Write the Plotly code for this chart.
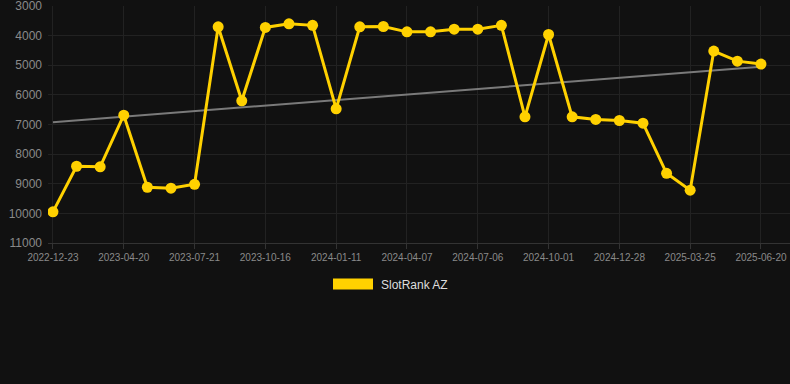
import plotly.graph_objects as go

dates = [
    "2022-12-23", "2023-01-31", "2023-03-11", "2023-04-20", "2023-05-21", "2023-06-20",
    "2023-07-21", "2023-08-19", "2023-09-17", "2023-10-16", "2023-11-14", "2023-12-13",
    "2024-01-11", "2024-02-09", "2024-03-09", "2024-04-07", "2024-05-07", "2024-06-06",
    "2024-07-06", "2024-08-04", "2024-09-02", "2024-10-01", "2024-10-30", "2024-11-28",
    "2024-12-28", "2025-01-26", "2025-02-24", "2025-03-25", "2025-04-23", "2025-05-22",
    "2025-06-20",
]
rank = [
    9950, 8410, 8430, 6685, 9120, 9150, 9020, 3700, 6200, 3720, 3600, 3650,
    6470, 3700, 3690, 3870, 3870, 3780, 3780, 3650, 6740, 3960, 6740, 6830,
    6865, 6955, 8650, 9220, 4520, 4860, 4960,
]
trend_x = [dates[0], dates[-1]]
trend_y = [6920, 5050]
tick_labels = dates[::3]
y_ticks = [3000, 4000, 5000, 6000, 7000, 8000, 9000, 10000, 11000]
series_name = "SlotRank AZ"

GOLD = "#FFD100"
BG = "#111111"

fig = go.Figure()
fig.add_trace(go.Scatter(
    x=trend_x, y=trend_y, mode="lines",
    line=dict(color="#7a7a7a", width=2),
    showlegend=False, hoverinfo="skip",
))
fig.add_trace(go.Scatter(
    x=dates, y=rank, mode="lines+markers", name=series_name,
    line=dict(color=GOLD, width=3),
    marker=dict(color=GOLD, size=11),
    showlegend=False,
))

L, R, T, B = 48, 0, 6, 141
W, H = 790, 384
pw, ph = W - L - R, H - T - B

fig.update_layout(
    width=W, height=H,
    margin=dict(l=L, r=R, t=T, b=B),
    paper_bgcolor=BG, plot_bgcolor=BG,
    font=dict(family="Liberation Sans, Arial, sans-serif", color="#8a8a8a"),
    showlegend=False,
)
fig.update_xaxes(
    type="category", categoryorder="array", categoryarray=dates,
    range=[-0.21, len(dates) - 1 + 1.23],
    tickvals=tick_labels, ticktext=tick_labels,
    tickfont=dict(size=10, color="#8a8a8a"),
    showgrid=True, gridcolor="#222222", gridwidth=1,
    showline=True, linecolor="#333333", linewidth=1,
    ticks="outside", ticklen=5, tickcolor="#333333",
    zeroline=False, fixedrange=True, ticklabeloverflow="allow",
)
fig.update_yaxes(
    range=[11003, 2997],
    tickvals=y_ticks, ticktext=[str(v) for v in y_ticks],
    tickfont=dict(size=12, color="#8a8a8a"),
    showgrid=True, gridcolor="#222222", gridwidth=1,
    zeroline=False, showline=False, ticklabelstandoff=5,
    fixedrange=True, ticklabeloverflow="allow",
)

# legend drawn as a swatch + label
def px(xp):
    return (xp - L) / pw

def py(yp):
    return (H - B - yp) / ph

fig.add_shape(
    type="rect", xref="paper", yref="paper",
    x0=px(333), x1=px(373), y0=py(289.5), y1=py(278.5),
    fillcolor=GOLD, line=dict(width=0),
)
fig.add_annotation(
    xref="paper", yref="paper", x=px(379), y=py(284.5),
    xanchor="left", yanchor="middle", showarrow=False,
    text=series_name, font=dict(size=12, color="#dddddd"),
)

fig.write_html(
    "out.html",
    config={"displayModeBar": False},
    post_script="document.body.style.margin='0';document.body.style.background='#111111';document.body.style.overflow='hidden';",
)
